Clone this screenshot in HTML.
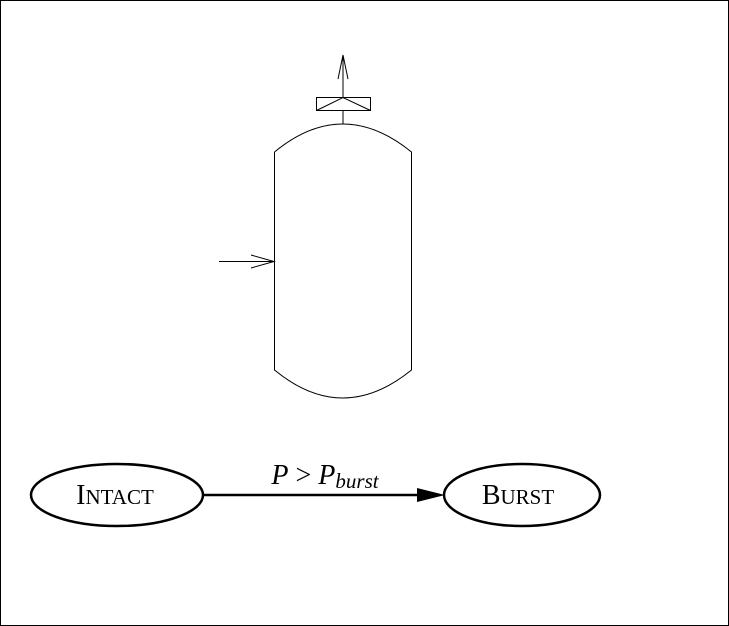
<!DOCTYPE html>
<html><head><meta charset="utf-8"><style>
html,body{margin:0;padding:0;background:#fff}
svg{display:block}
</style></head><body>
<svg width="729" height="626" viewBox="0 0 729 626">
<rect x="0.5" y="0.5" width="728" height="625" fill="#fff" stroke="#000"/>
<g fill="none" stroke="#000" stroke-width="1">
<path d="M274.5 152 L274.5 370 Q342.5 426 411.5 370 L411.5 152 Q342.5 96 274.5 152"/>
<line x1="343" y1="124" x2="343" y2="110"/>
<rect x="316.5" y="97.5" width="54" height="13"/>
<path d="M316.5 110.5 L343 97.5 L370.5 110.5"/>
<line x1="343" y1="97" x2="343" y2="55"/>
<path d="M338 79 L343 55 L348 79"/>
<line x1="219" y1="261.5" x2="274" y2="261.5"/>
<path d="M251 255 L274 261.5 L251 268"/>
</g>
<g>
<ellipse cx="117" cy="495" rx="86" ry="31" fill="none" stroke="#000" stroke-width="2.5"/>
<ellipse cx="522" cy="495" rx="78" ry="31" fill="none" stroke="#000" stroke-width="2.5"/>
<text x="115" y="504" text-anchor="middle" font-family="Liberation Serif, serif" font-size="28">I<tspan font-size="21">NTACT</tspan></text>
<text x="518" y="504" text-anchor="middle" font-family="Liberation Serif, serif" font-size="28">B<tspan font-size="21">URST</tspan></text>
<line x1="203" y1="495" x2="420" y2="495" stroke="#000" stroke-width="2.5"/>
<path d="M417 488 L445 495 L417 502 Z" fill="#000"/>
<text x="325" y="484" text-anchor="middle" font-family="Liberation Serif, serif" font-size="28"><tspan font-style="italic">P</tspan> &gt; <tspan font-style="italic">P</tspan><tspan font-style="italic" font-size="21" dy="4">burst</tspan></text>
</g>
</svg>
</body></html>
